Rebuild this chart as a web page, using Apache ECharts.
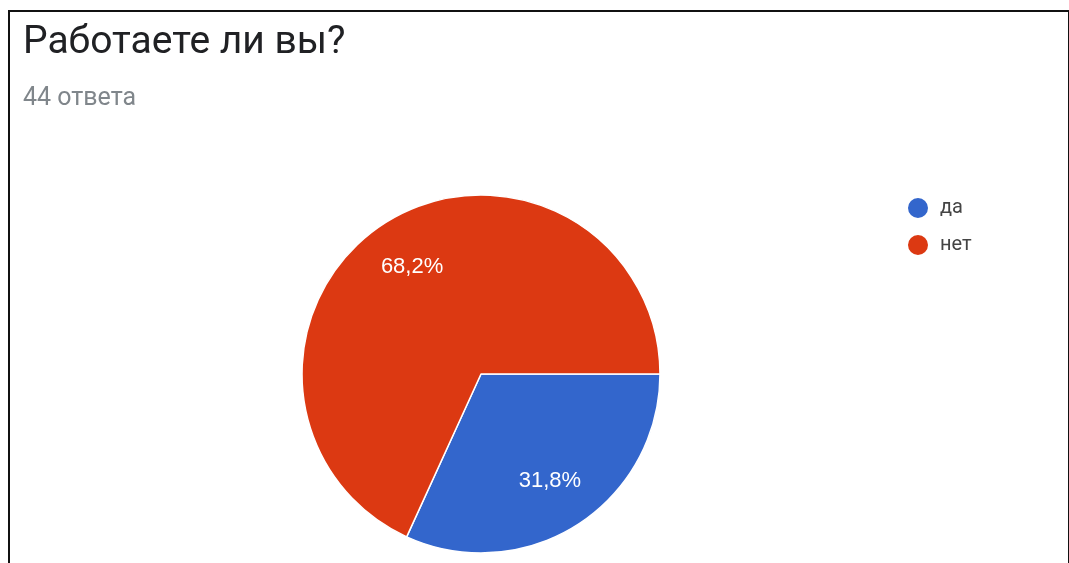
<!DOCTYPE html>
<html><head><meta charset="utf-8">
<script src="https://cdn.jsdelivr.net/npm/echarts@6/dist/echarts.min.js"></script>
<style>
html,body{margin:0;padding:0;background:#fff;}
#frame{position:absolute;left:8px;top:10px;width:1058px;height:560px;border-left:2px solid #111;border-top:2px solid #111;border-right:2px solid #111;}
#c{position:absolute;left:0;top:0;width:1069px;height:563px;}
</style></head>
<body>
<div id="frame"></div>
<div id="c"></div>
<script>
const categories = ['да', 'нет'];
const values = [14, 30];
const percentLabels = ['31,8%', '68,2%'];
const colors = ['#3366cc', '#dc3912'];
const titleText = 'Работаете ли вы?';
const subtitleText = '44 ответа';

const chart = echarts.init(document.getElementById('c'));
const data = categories.map((n, i) => ({ name: n, value: values[i] }));
chart.setOption({
  animation: false,
  color: colors,
  title: {
    text: titleText,
    subtext: subtitleText,
    left: 23, top: 24,
    padding: 0,
    itemGap: 23,
    textStyle: { fontFamily: 'Roboto', fontSize: 39, fontWeight: 'normal', color: '#202124' },
    subtextStyle: { fontFamily: 'Roboto', fontSize: 25, color: '#80868b' }
  },
  legend: {
    orient: 'vertical',
    left: 901, top: 191,
    icon: 'circle',
    itemWidth: 22, itemHeight: 22,
    itemGap: 13,
    textStyle: { fontFamily: 'Roboto', fontSize: 20, color: '#444', padding: [0, 0, 0, 6] },
    data: categories
  },
  series: [
    {
      type: 'pie',
      center: [481, 374],
      radius: [0, 179],
      startAngle: 0,
      clockwise: true,
      data: data,
      itemStyle: { borderColor: '#fff', borderWidth: 1.5 },
      label: { show: false },
      labelLine: { show: false },
      emphasis: { disabled: true }
    },
    {
      type: 'pie',
      center: [481, 374],
      radius: [70, 179],
      startAngle: 0,
      clockwise: true,
      silent: true,
      data: data,
      itemStyle: { color: 'rgba(0,0,0,0)' },
      label: {
        show: true,
        position: 'inside',
        formatter: p => percentLabels[p.dataIndex],
        fontFamily: 'Liberation Sans', fontSize: 22, color: '#fff'
      },
      labelLine: { show: false },
      emphasis: { disabled: true }
    }
  ]
});
</script>
</body></html>
